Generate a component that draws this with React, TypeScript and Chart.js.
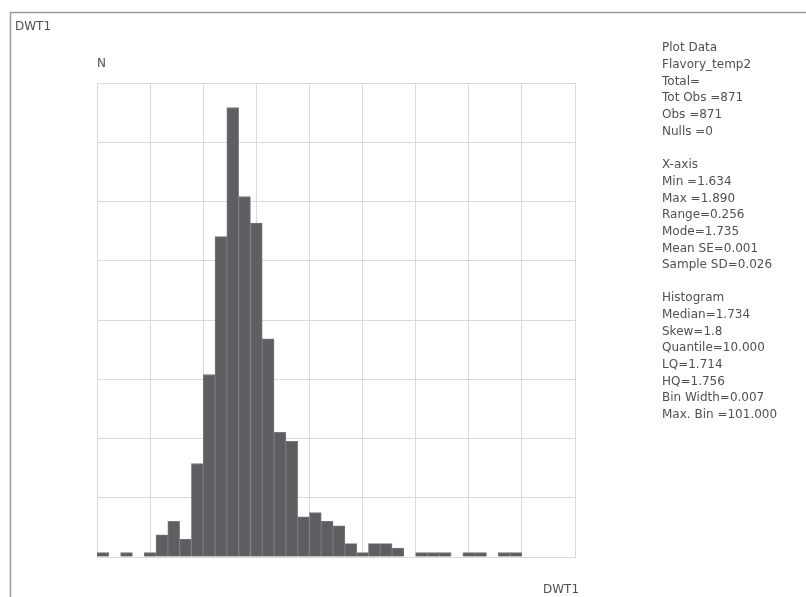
import React, { useEffect, useRef } from "react";
import { Chart, registerables } from "chart.js";

Chart.register(...registerables);

// ---- data ----
const xAxisName = "DWT1";
const yAxisName = "N";
const binStart = 1.63;
const binWidth = 0.27 / 40.5;
const xMin = 1.63;
const xMax = 1.9;
const yMax = 106.5;
const binCounts = [
  1, 0, 1, 0, 1, 5, 8, 4, 21, 41, 72, 101, 81, 75, 49, 28, 26, 9, 10, 8,
  7, 3, 1, 3, 3, 2, 0, 1, 1, 1, 0, 1, 1, 0, 1, 1, 0, 0, 0, 0,
];
const plotDataLines = ["Plot Data", "Flavory_temp2", "Total=", "Tot Obs =871", "Obs =871", "Nulls =0"];
const xAxisLines = ["X-axis", "Min =1.634", "Max =1.890", "Range=0.256", "Mode=1.735", "Mean SE=0.001", "Sample SD=0.026"];
const histogramLines = ["Histogram", "Median=1.734", "Skew=1.8", "Quantile=10.000", "LQ=1.714", "HQ=1.756", "Bin Width=0.007", "Max. Bin =101.000"];

const FONT = '12px "DejaVu Sans"';

const overlayPlugin = {
  id: "overlay",
  afterDraw(chart: any) {
    const ctx = chart.ctx as CanvasRenderingContext2D;
    ctx.save();
    // frame
    ctx.strokeStyle = "#9a9a9a";
    ctx.lineWidth = 1.5;
    ctx.beginPath();
    ctx.moveTo(10.5, 597);
    ctx.lineTo(10.5, 12.5);
    ctx.lineTo(806, 12.5);
    ctx.stroke();

    ctx.fillStyle = "#505050";
    ctx.font = FONT;
    ctx.textBaseline = "middle";
    ctx.textAlign = "left";
    ctx.fillText(xAxisName, 15, 27);
    ctx.fillText(yAxisName, 97, 64);
    ctx.fillText(xAxisName, 543, 590);

    const lh = 16.7;
    const groups: [string[], number][] = [
      [plotDataLines, 48],
      [xAxisLines, 165],
      [histogramLines, 298],
    ];
    for (const [lines, y0] of groups) {
      lines.forEach((t, i) => ctx.fillText(t, 662, y0 + i * lh));
    }
    ctx.restore();
  },
};

export default function App() {
  const ref = useRef<HTMLCanvasElement | null>(null);
  useEffect(() => {
    document.body.style.margin = "0";
    const canvas = ref.current!;
    const chart = new Chart(canvas, {
      type: "bar",
      data: {
        datasets: [
          {
            data: binCounts.map((c, k) => ({ x: binStart + (k + 0.5) * binWidth, y: c })),
            backgroundColor: "#5c5e62",
            borderColor: "#75777b",
            borderWidth: 1,
            barPercentage: 1,
            categoryPercentage: 1,
          } as any,
        ],
      },
      options: {
        animation: false,
        responsive: false,
        layout: { padding: { left: 97, top: 83, right: 231, bottom: 40 } },
        plugins: { legend: { display: false }, tooltip: { enabled: false } },
        scales: {
          x: {
            type: "linear",
            min: xMin,
            max: xMax,
            offset: false,
            ticks: { display: false, count: 10 },
            grid: { color: "#dadada", drawTicks: false, offset: false },
            border: { display: true, color: "#dadada" },
          },
          y: {
            type: "linear",
            min: 0,
            max: yMax,
            ticks: { display: false, count: 9 },
            grid: { color: "#dadada", drawTicks: false },
            border: { display: true, color: "#dadada" },
          },
        },
      },
      plugins: [overlayPlugin],
    });
    return () => chart.destroy();
  }, []);
  return <canvas ref={ref} width={806} height={597} style={{ display: "block" }} />;
}
